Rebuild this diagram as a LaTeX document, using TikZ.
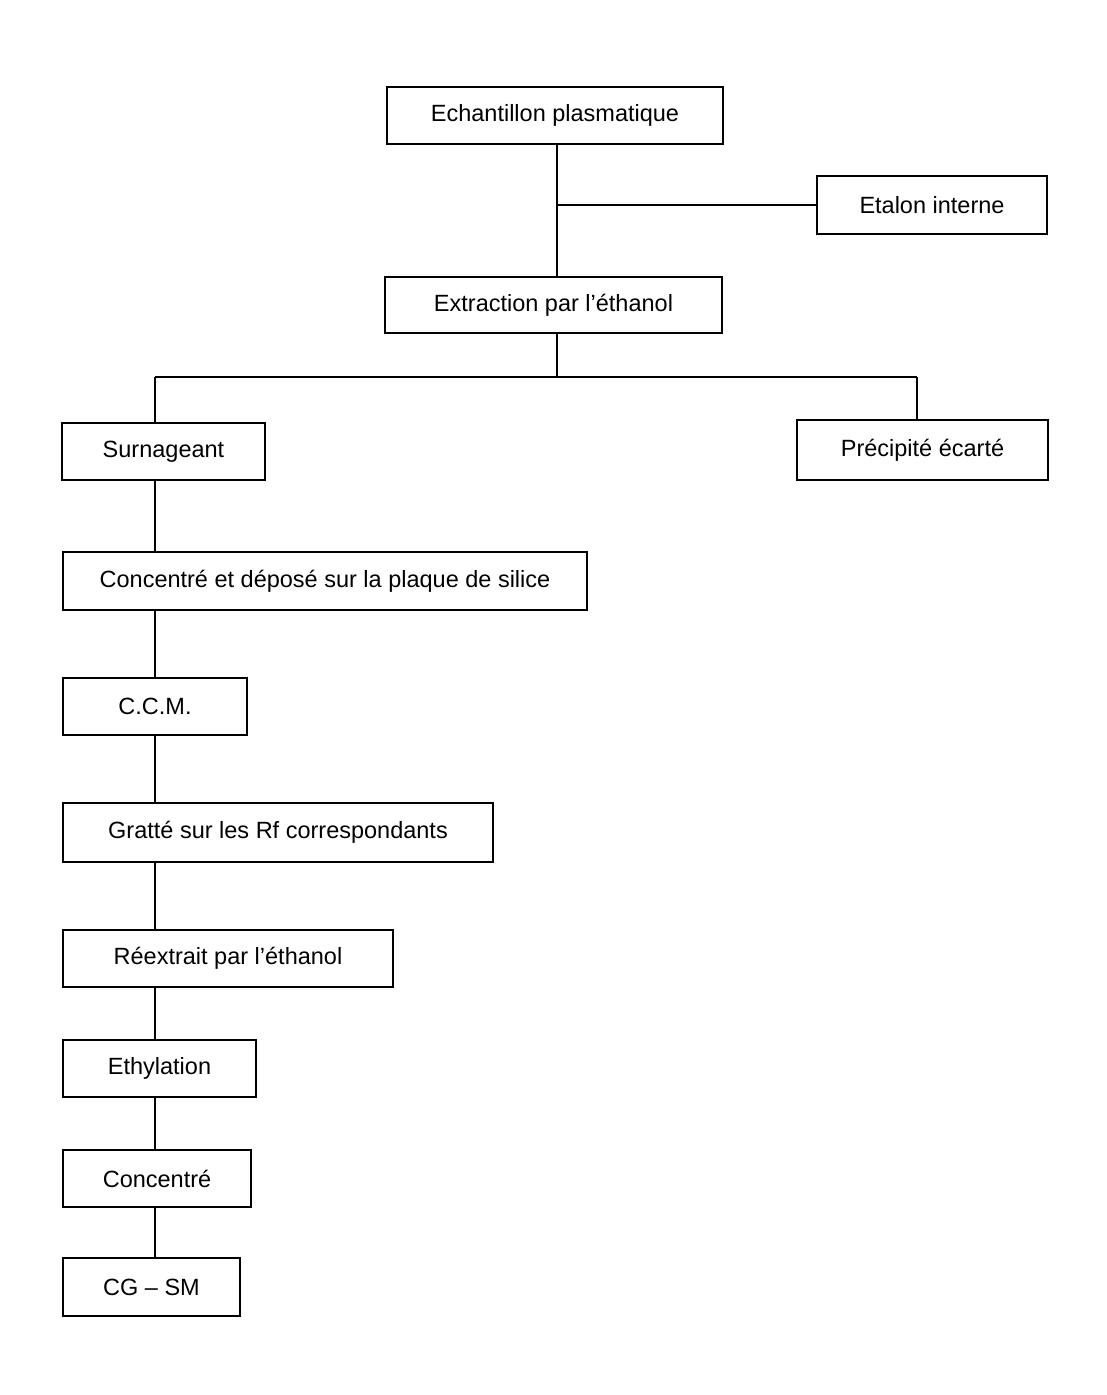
\documentclass[tikz,border=0pt]{standalone}
\usepackage{fontspec}
\setmainfont{Liberation Sans}
\begin{document}
\begin{tikzpicture}[x=1pt,y=-1pt,
  box/.style={draw, line width=1.3pt, inner sep=0pt, font=\fontsize{23.5}{27}\selectfont},
  link/.style={line width=1.3pt}]
\useasboundingbox (0,0) rectangle (1106,1395);
\node[box, minimum width=336pt, minimum height=57pt] (ech) at (555,115.5) {Echantillon plasmatique};
\node[box, minimum width=230pt, minimum height=58pt] (eta) at (932,205) {Etalon interne};
\node[box, minimum width=337pt, minimum height=56pt] (ext) at (553.5,305) {Extraction par l’éthanol};
\node[box, minimum width=203pt, minimum height=57pt] (sur) at (163.5,451.5) {Surnageant};
\node[box, minimum width=251pt, minimum height=60pt] (pre) at (922.5,450) {Précipité écarté};
\node[box, minimum width=524pt, minimum height=58pt] (con) at (325,581) {Concentré et déposé sur la plaque de silice};
\node[box, minimum width=184pt, minimum height=57pt] (ccm) at (155,706.5) {C.C.M.};
\node[box, minimum width=430pt, minimum height=59pt] (gra) at (278,832.5) {Gratté sur les Rf correspondants};
\node[box, minimum width=330pt, minimum height=57pt] (ree) at (228,958.5) {Réextrait par l’éthanol};
\node[box, minimum width=193pt, minimum height=57pt] (ethy) at (159.5,1068.5) {Ethylation};
\node[box, minimum width=188pt, minimum height=57pt] (conc) at (157,1178.5) {Concentré};
\node[box, minimum width=177pt, minimum height=58pt] (cg) at (151.5,1287) {CG -- SM};
\coordinate (j1) at (557,205);
\coordinate (j2) at (557,377);
\coordinate (jl) at (155,377);
\coordinate (jr) at (917,377);
\draw[link] (ech.south -| j1) -- (ext.north -| j1);
\draw[link] (j1) -- (eta.west);
\draw[link] (ext.south -| j2) -- (j2);
\draw[link] (jl) -- (jr);
\draw[link] (jl) -- (sur.north -| jl);
\draw[link] (jr) -- (pre.north -| jr);
\draw[link] (sur.south -| jl) -- (con.north -| jl);
\draw[link] (con.south -| jl) -- (ccm.north -| jl);
\draw[link] (ccm.south -| jl) -- (gra.north -| jl);
\draw[link] (gra.south -| jl) -- (ree.north -| jl);
\draw[link] (ree.south -| jl) -- (ethy.north -| jl);
\draw[link] (ethy.south -| jl) -- (conc.north -| jl);
\draw[link] (conc.south -| jl) -- (cg.north -| jl);
\end{tikzpicture}
\end{document}
